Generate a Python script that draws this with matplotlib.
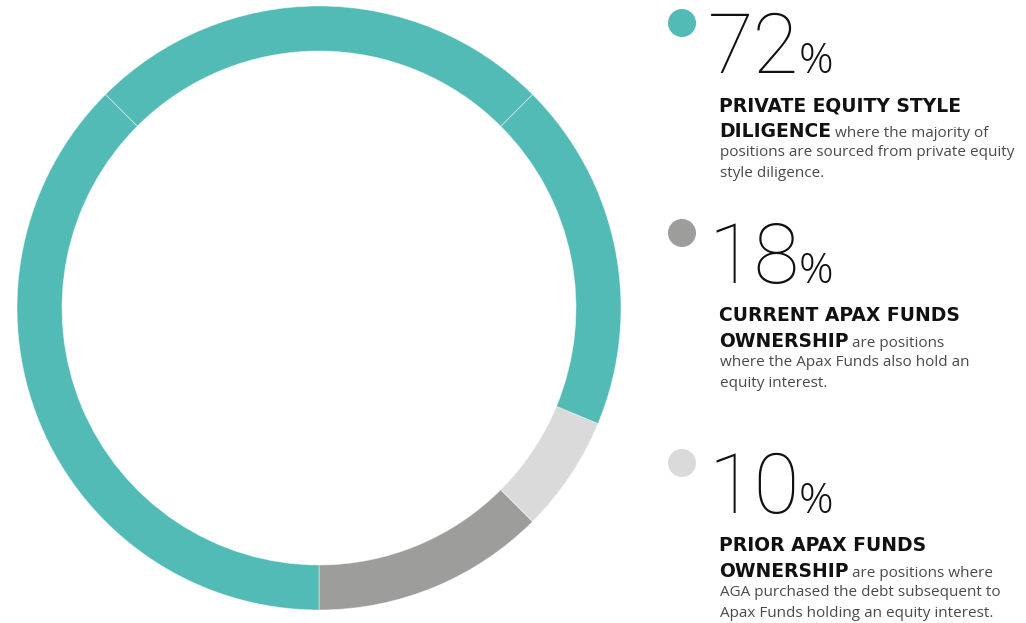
import matplotlib

matplotlib.use("Agg")
import matplotlib.pyplot as plt
from matplotlib.patches import Circle

# ring segments as drawn, degrees counter-clockwise starting at 6 o'clock
ring_spans = [45, 22.5, 67.5, 90, 135]
ring_colors = ["#9d9d9c", "#dadada", "#53bbb5", "#53bbb5", "#53bbb5"]

shares = ["72", "18", "10"]
share_colors = ["#53bbb5", "#9d9d9c", "#dadada"]
headings = [
    ["PRIVATE EQUITY STYLE", "DILIGENCE"],
    ["CURRENT APAX FUNDS", "OWNERSHIP"],
    ["PRIOR APAX FUNDS", "OWNERSHIP"],
]
tails = ["where the majority of", "are positions", "are positions where"]
body_lines = [
    ["positions are sourced from private equity", "style diligence."],
    ["where the Apax Funds also hold an", "equity interest."],
    ["AGA purchased the debt subsequent to", "Apax Funds holding an equity interest."],
]

W, H = 1026, 623
INK = "#111111"
BODY = "#4a4a4a"

fig = plt.figure(figsize=(W / 100, H / 100), dpi=100)

# donut
ax = fig.add_axes([17 / W, 13 / H, 604 / W, 604 / H])
ax.pie(
    ring_spans,
    colors=ring_colors,
    startangle=-90,
    counterclock=True,
    radius=1,
    wedgeprops=dict(width=0.149, edgecolor=(1, 1, 1, 0.5), linewidth=0.6),
)
ax.set_xlim(-1, 1)
ax.set_ylim(-1, 1)
ax.set_aspect("equal")
ax.axis("off")

# text panel in pixel coordinates
tx = fig.add_axes([0, 0, 1, 1])
tx.set_xlim(0, W)
tx.set_ylim(H, 0)
tx.axis("off")
renderer = fig.canvas.get_renderer()


def right_edge(t):
    return t.get_window_extent(renderer).x1


number_baselines = [73, 283, 513]
for i, base in enumerate(number_baselines):
    tx.add_patch(Circle((682, base - 50), 14, color=share_colors[i], lw=0))
    num = tx.text(708, base, shares[i], fontsize=60, family="Roboto", fontweight="light",
                  color=INK, va="baseline")
    tx.text(right_edge(num) - 1, base, "%", fontsize=31, family="Open Sans", fontweight="light",
            color=INK, va="baseline")

    tx.text(719, base + 38, headings[i][0], fontsize=13.5, family="DejaVu Sans",
            fontweight="bold", color=INK, va="baseline")
    bold = tx.text(719, base + 64, headings[i][1], fontsize=13.5, family="DejaVu Sans",
                   fontweight="bold", color=INK, va="baseline")
    tx.text(right_edge(bold) + 4, base + 64, tails[i], fontsize=11, family="Open Sans",
            color=BODY, va="baseline")
    for j, line in enumerate(body_lines[i]):
        tx.text(720, base + 83 + 21 * j, line, fontsize=11, family="Open Sans",
                color=BODY, va="baseline")

fig.savefig("out.png", dpi=100)
